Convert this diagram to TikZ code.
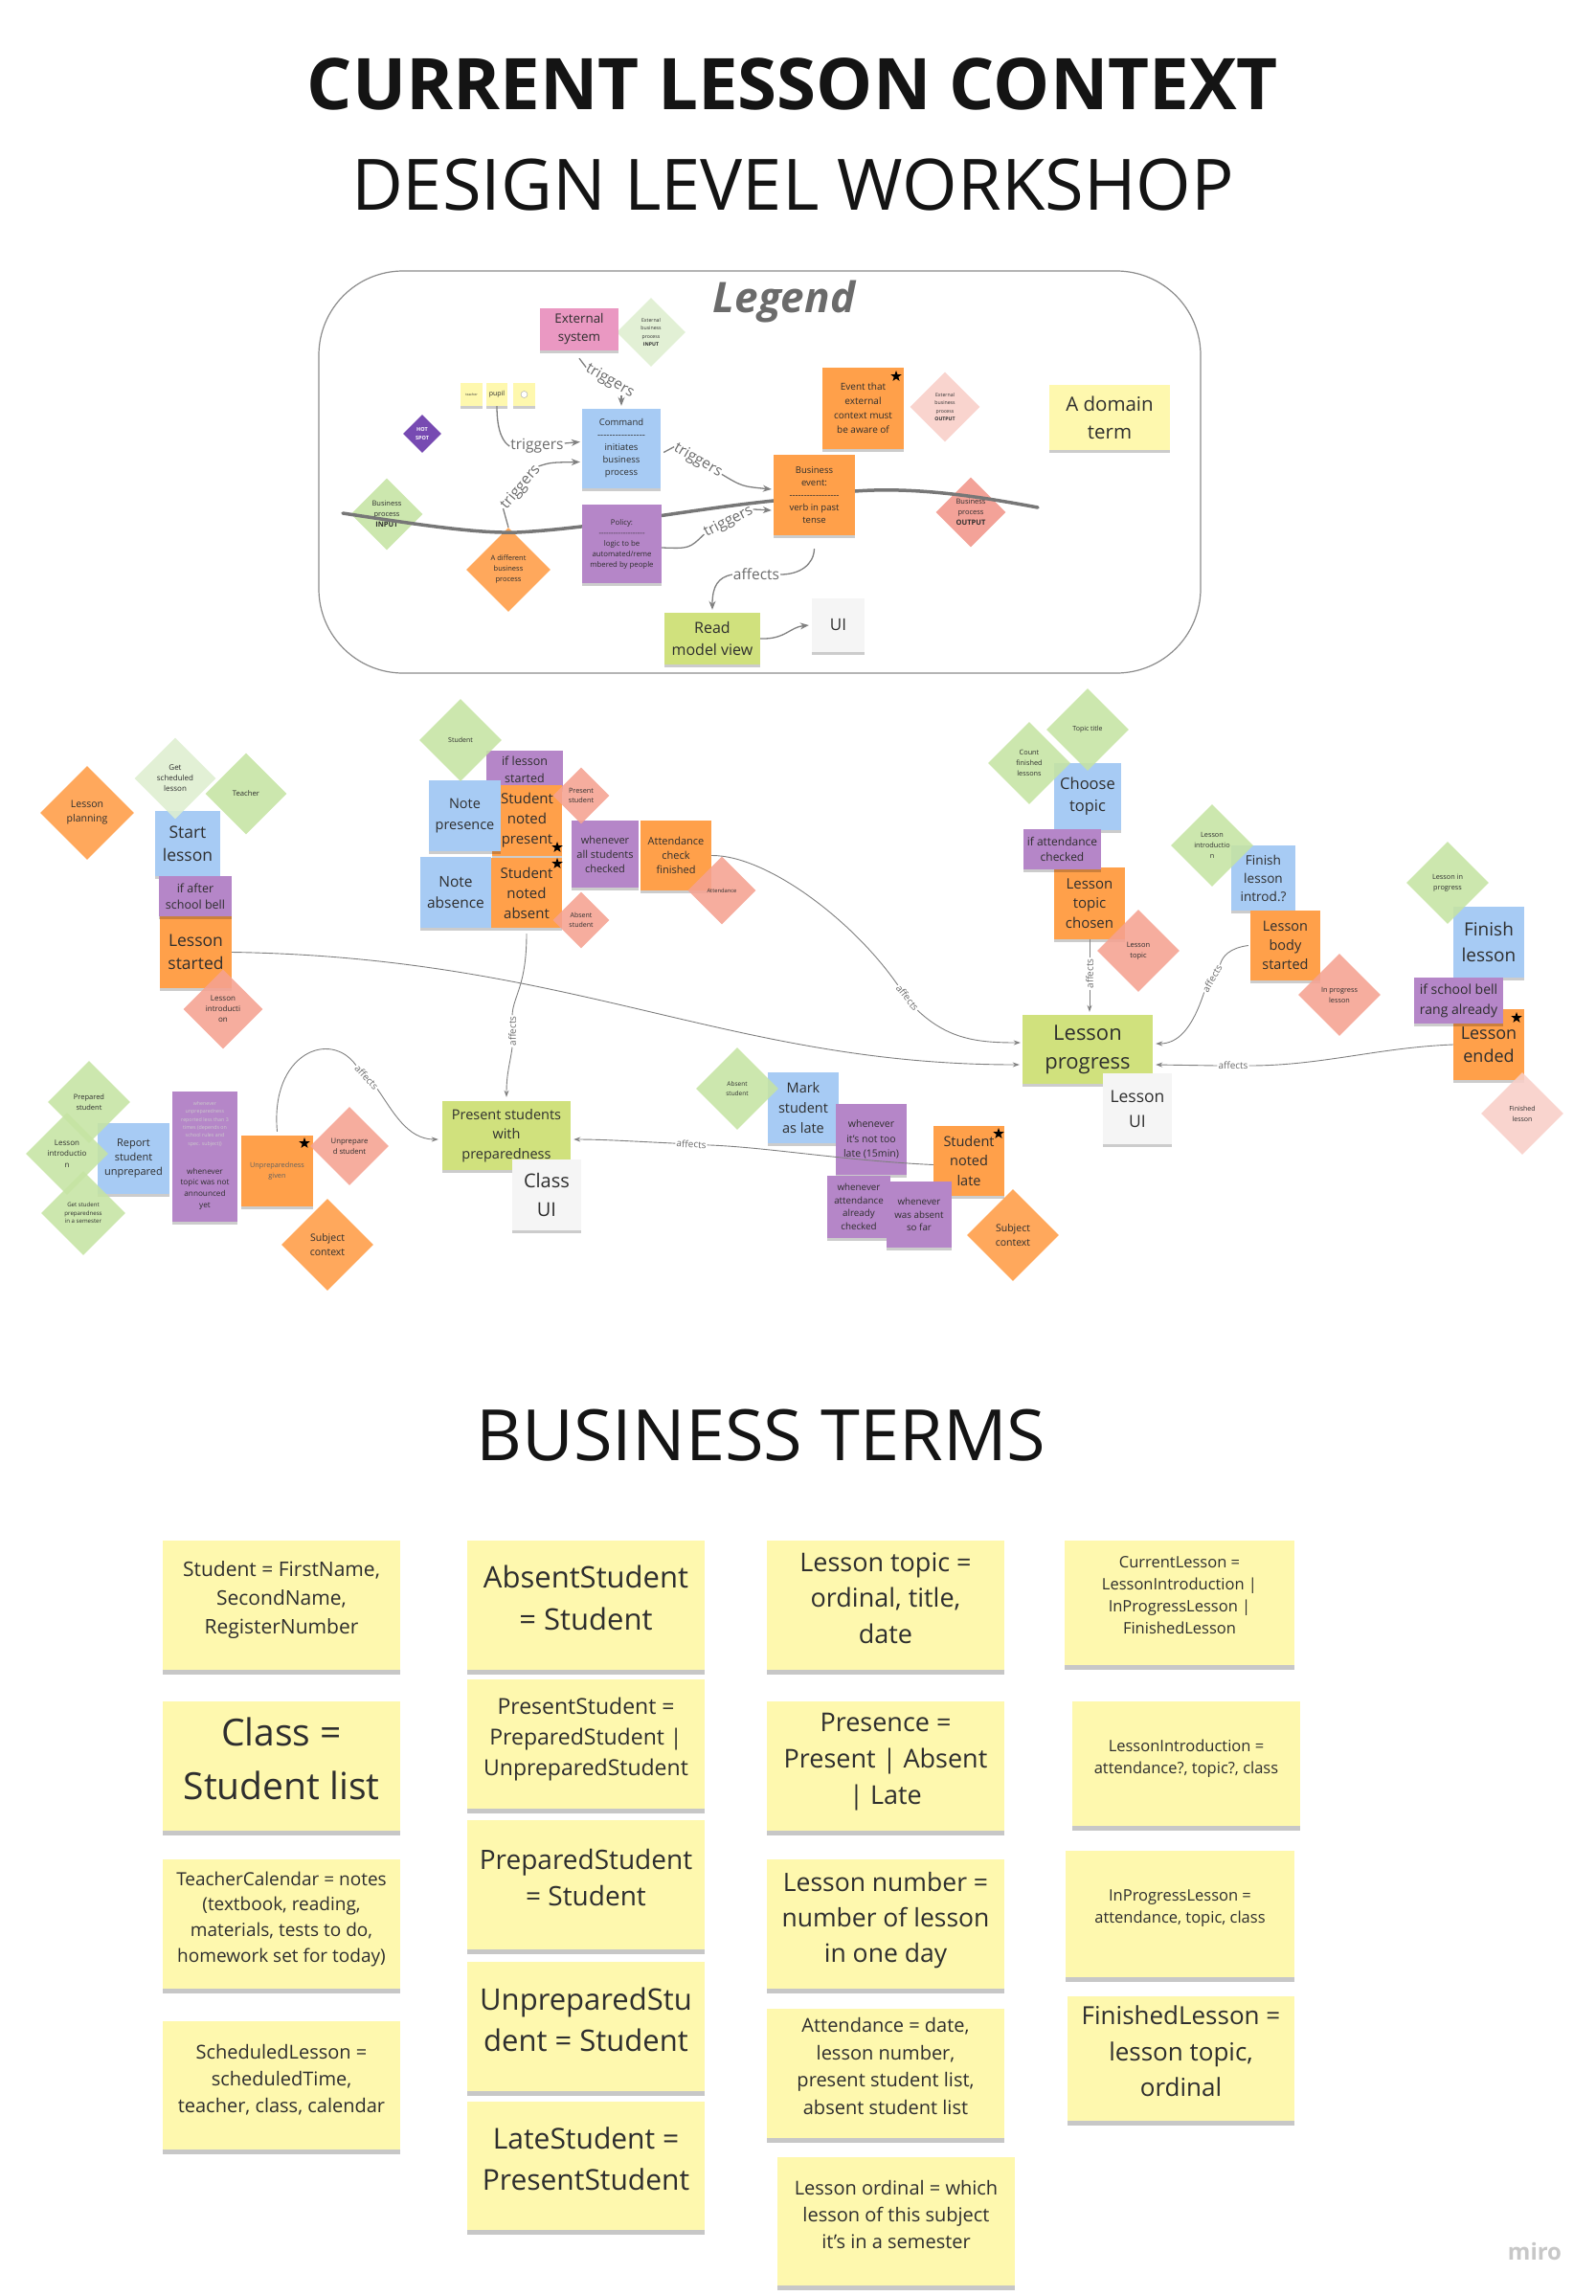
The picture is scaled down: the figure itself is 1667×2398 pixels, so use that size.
\documentclass[tikz,border=0pt]{standalone}
\usepackage{fontspec}
\setmainfont{Open Sans}
\usepackage{graphicx}
\usetikzlibrary{shapes.geometric,arrows.meta,shadows}
\definecolor{txt}{HTML}{2E2E2E}
\definecolor{cmdc}{HTML}{A7CBF4}
\definecolor{evc}{HTML}{FFA04A}
\definecolor{polc}{HTML}{B586C8}
\definecolor{rmc}{HTML}{D0E17D}
\definecolor{ylc}{HTML}{FEF8AE}
\definecolor{uic}{HTML}{F5F5F5}
\definecolor{extc}{HTML}{EA98C2}
\definecolor{gdc}{HTML}{C6E4A3}
\definecolor{pgdc}{HTML}{DEEFD0}
\definecolor{sdc}{HTML}{F5A291}
\definecolor{ppc}{HTML}{F9CFC8}
\definecolor{odc}{HTML}{FF9D46}
\definecolor{hsc}{HTML}{6531A8}
\definecolor{bpoc}{HTML}{F2968A}
\definecolor{linec}{HTML}{808080}
\definecolor{tlc}{HTML}{777777}
\newcommand\fsz[2]{\fontsize{#1pt}{#2pt}\selectfont}
\newcommand\dashline[1]{\hbox to #1{\xleaders\hbox{-}\hfill}}
\newcommand\lift{\rule[-15pt]{0pt}{0pt}}
\tikzset{
  base/.style={align=center, inner sep=1pt, text=txt},
  sticky/.style={base, rectangle, drop shadow={shadow xshift=0pt, shadow yshift=-3pt, opacity=.2, fill=black}},
  wh/.style 2 args={minimum width=#1, minimum height=#2},
  cmdn/.style={sticky, fill=cmdc},
  evn/.style={sticky, fill=evc},
  poln/.style={sticky, fill=polc},
  rmn/.style={sticky, fill=rmc},
  yln/.style={sticky, fill=ylc},
  uin/.style={sticky, fill=uic},
  extn/.style={sticky, fill=extc},
  term/.style={base, rectangle, fill=ylc, text=black!82, drop shadow={shadow xshift=0pt, shadow yshift=-5pt, opacity=.22, fill=black}},
  dia/.style={base, diamond, aspect=1, inner sep=0pt, minimum size=#1, fill opacity=.88, text opacity=1},
  gd/.style={dia=#1, fill=gdc},
  pgd/.style={dia=#1, fill=pgdc},
  sd/.style={dia=#1, fill=sdc},
  ppd/.style={dia=#1, fill=ppc},
  od/.style={dia=#1, fill=odc},
  hsd/.style={dia=#1, fill=hsc},
  bpod/.style={dia=#1, fill=bpoc},
  conn/.style={draw=linec, line width=0.9pt},
  arr/.style={conn, -{Stealth[length=7pt,width=5pt]}},
  lconn/.style={draw=linec, line width=1.3pt},
  larr/.style={lconn, -{Stealth[length=9pt,width=7pt]}},
  lbl/.style={inner sep=1pt, text=black!58, font=\fsz{15.5}{18}},
  albl/.style={inner sep=1pt, text=black!58, font=\fsz{10}{12}},
  starn/.style={star, star points=5, star point ratio=2.5, fill=black, inner sep=0pt, minimum size=12},
}
\begin{document}
\begin{tikzpicture}[x=1pt,y=-1pt]
\useasboundingbox (0,0) rectangle (1667,2398);
\fill[white] (0,0) rectangle (1667,2398);

% ---------------- titles
\node[font=\bfseries\fsz{80}{90}, text=black!92, inner sep=0] (title1) at (828,88) {\resizebox{1014pt}{!}{CURRENT LESSON CONTEXT}};
\node[font=\fsz{72}{80}, text=black!92, inner sep=0] (title2) at (828,193) {\resizebox{922pt}{!}{DESIGN LEVEL WORKSHOP}};
\node[font=\fsz{72}{80}, text=black!92, inner sep=0] (title3) at (795,1499) {\resizebox{595pt}{!}{BUSINESS TERMS}};

% ---------------- legend
\node[draw=black!45, line width=1.2pt, rounded corners=88pt, minimum width=921, minimum height=420, inner sep=0] (legendbox) at (793.5,493) {};
\node[font=\bfseries\itshape\fsz{44}{50}, text=black!58] (legendt) at (819,315) {Legend};

\node[pgd=72, font=\fsz{5.2}{8.6}] (extin) at (680,347) {External\\business\\process\\\textbf{INPUT}};
\node[ppd=73, font=\fsz{5.2}{8.6}] (extout) at (987,425) {External\\business\\process\\\textbf{OUTPUT}};
\node[bpod=73, font=\fsz{7.5}{11}] (bpout) at (1014,535) {Business\\process\\\textbf{OUTPUT}};
\node[gd=75, font=\fsz{7.5}{11}] (bpin) at (404,537) {Business\\process\\\textbf{INPUT}};
\node[hsd=40, font=\bfseries\fsz{5.5}{8.5}, text=white] (hotspot) at (441,453) {HOT\\SPOT};
\node[od=88, font=\fsz{7.5}{11}] (diffbp) at (531,595) {A different\\business\\process};

\draw[line width=3.5pt, draw=tlc, line cap=round] (358,536) .. controls (450,550) and (500,557) .. (540,556) .. controls (620,552) and (720,532) .. (808,523) -- (893,513) .. controls (960,508) and (1030,520) .. (1084,530);

\node[extn, wh={82}{44}, font=\fsz{13.4}{19}] (extsys) at (605,344) {External\\system};
\node[yln, wh={23}{24}, font=\fsz{3.5}{5}] (teacherst) at (492.5,412) {teacher};
\node[yln, wh={22}{24}, font=\fsz{7}{10}] (pupil) at (519,412) {pupil};
\node[yln, wh={23}{24}] (clock) at (547.5,412) {};
\node[circle, draw=black!35, fill=white, minimum size=7, inner sep=0] (clockface) at (clock) {};
\node[cmdn, wh={82}{83}, font=\fsz{9.5}{13}] (cmd) at (649,468.5) {Command\\\dashline{50pt}\\initiates\\business\\process};
\node[poln, wh={83}{82}, font=\fsz{7.8}{11}] (pol) at (649.5,568) {Policy:\\\dashline{48pt}\\logic to be\\automated/reme\\mbered by people};
\node[rmn, wh={100}{54}, font=\fsz{16}{23}] (rmv) at (744,667) {Read\\model view};
\node[evn, wh={85}{84}, font=\fsz{9.5}{13}] (bev) at (850.5,517) {Business\\event:\\\dashline{52pt}\\verb in past\\tense};
\node[evn, wh={85}{85}, font=\fsz{10}{15}] (evext) at (901.5,426.5) {Event that\\external\\context must\\be aware of};
\node[yln, wh={126}{68}, font=\fsz{20.5}{29}] (dterm) at (1159,436) {A domain\\term};
\node[uin, wh={55}{56}, font=\fsz{17}{20}] (ui) at (875.5,653) {UI};
\node[starn] (star1) at (936,393) {};

\node[lbl, rotate=-30] (trg1) at (637,398) {triggers};
\node[lbl] (trg2) at (561,466) {triggers};
\node[lbl, rotate=50] (trg3) at (544,509) {triggers};
\node[lbl, rotate=-30] (trg4) at (729,481) {triggers};
\node[lbl, rotate=27] (trg5) at (761,545) {triggers};
\node[lbl] (aff1) at (790,600) {affects};

\draw[lconn] ([yshift=-8pt]extsys.south) -- (trg1.west);
\draw[larr] ([yshift=14pt]cmd.north) -- ([yshift=3pt]cmd.north);
\draw[lconn] (pupil.south) .. controls (519,452) and (526,462) .. (trg2.west);
\draw[larr] ([yshift=3pt]trg2.east) -- ([xshift=-2pt,yshift=7pt]cmd.west);
\draw[lconn] (diffbp.north) -- (trg3.west);
\draw[larr] (trg3.east) .. controls (575,483) .. ([xshift=-2pt,yshift=-14pt]cmd.west);
\draw[lconn] ([xshift=3pt,yshift=-4pt]cmd.east) -- (trg4.west);
\draw[larr] (trg4.east) .. controls (775,508) .. ([xshift=-2pt,yshift=6pt]bev.west);
\draw[lconn] ([yshift=-4pt]pol.east) .. controls (720,573) .. (trg5.west);
\draw[larr] (trg5.east) -- ([xshift=-2pt,yshift=-16pt]bev.west);
\draw[lconn] ([yshift=-14pt]bev.south) .. controls (850,590) and (835,600) .. (aff1.east);
\draw[larr] (aff1.west) .. controls (750,603) and (744,612) .. ([yshift=3pt]rmv.north);
\draw[larr] (rmv.east) .. controls (820,668) and (825,655) .. ([xshift=-3pt]ui.west);

% ---------------- main: sticky notes
\node[cmdn, wh={68}{68}, font=\fsz{17.5}{24}] (sl) at (196,881) {Start\\lesson};
\node[evn, wh={75}{75}, font=\fsz{17.5}{24}] (ls) at (204.5,994.5) {Lesson\\started};
\node[poln, wh={76}{42}, font=\fsz{12.5}{17}] (iasb) at (204,936) {if after\\school bell};

\node[poln, wh={80}{40}, font=\fsz{12.5}{18}] (ils) at (548,804) {if lesson\\started};
\node[evn, wh={73}{74}, font=\fsz{15}{21}] (snp) at (550.5,857) {Student\\noted\\present};
\node[cmdn, wh={75}{74}, font=\fsz{14.5}{21.5}] (np) at (485.5,852) {Note\\presence};
\node[evn, wh={74}{73}, font=\fsz{15}{21}] (sna) at (550,932.5) {Student\\noted\\absent};
\node[cmdn, wh={74}{74}, font=\fsz{15.5}{21.5}] (na) at (476,932) {Note\\absence};
\node[poln, wh={70}{70}, font=\fsz{11}{15}] (wasc) at (632,892) {whenever\\all students\\checked};
\node[evn, wh={74}{73}, font=\fsz{11}{15}] (acf) at (706,893.5) {Attendance\\check\\finished};

\node[cmdn, wh={70}{70}, font=\fsz{16.5}{23}] (ct) at (1136,832) {Choose\\topic};
\node[evn, wh={74}{75}, font=\fsz{15}{20.5}] (ltc) at (1138,943.5) {Lesson\\topic\\chosen};
\node[poln, wh={81}{42}, font=\fsz{12}{16.5}] (iac) at (1109.5,887) {if attendance\\checked};
\node[cmdn, wh={67}{68}, font=\fsz{13.6}{19}] (fli) at (1319.5,917) {Finish\\lesson\\introd.?};
\node[evn, wh={73}{73}, font=\fsz{14.5}{20.3}] (lbs) at (1342.5,987.5) {Lesson\\body\\started};
\node[cmdn, wh={74}{74}, font=\fsz{19}{27}] (fl) at (1555,984) {Finish\\lesson};
\node[evn, wh={74}{74}, font=\fsz{18}{24.5}] (le) at (1555,1091) {Lesson\\ended};
\node[poln, wh={93}{48}, font=\fsz{14}{20.7}] (isbra) at (1523.5,1045) {if school bell\\rang already};
\node[rmn, wh={136}{72}, font=\fsz{22}{30}] (lp) at (1136,1096) {Lesson\\progress};
\node[uin, wh={72}{74}, font=\fsz{17.5}{25.7}] (lui) at (1188,1158) {Lesson\\UI};

\node[cmdn, wh={75}{74}, font=\fsz{11}{15}] (rsu) at (139.5,1210) {Report\\student\\unprepared};
\node[poln, wh={68}{68}, font=\fsz{5.3}{8.3}, text=white!80!black] (wur) at (214,1174) {whenever\\unpreparedness\\reported less than 3\\times (depends on\\school rules and\\spec. subject))};
\node[poln, wh={68}{69}, font=\fsz{8.2}{11.7}] (wtna) at (214,1241.5) {whenever\\topic was not\\announced\\yet};
\node[evn, wh={75}{74}, font=\fsz{7.3}{10.2}, text=black!62] (ug) at (289.5,1223) {Unpreparedness\\given};

\node[rmn, wh={134}{72}, font=\fsz{14.5}{20.7}] (psp) at (529,1186) {Present students\\with\\preparedness};
\node[uin, wh={72}{74}, font=\fsz{20}{30}] (cui) at (571,1248) {Class\\UI};
\node[cmdn, wh={74}{74}, font=\fsz{14.5}{20.7}] (msl) at (839,1157) {Mark\\student\\as late};
\node[poln, wh={74}{74}, font=\fsz{10.5}{15.5}] (wnl) at (910,1190) {whenever\\it's not too\\late (15min)};
\node[evn, wh={74}{73}, font=\fsz{14.5}{20.3}] (snl) at (1012,1212.5) {Student\\noted\\late};
\node[poln, wh={66}{65}, font=\fsz{9.8}{13.6}] (waac) at (897,1260.5) {whenever\\attendance\\already\\checked};
\node[poln, wh={68}{69}, font=\fsz{9.8}{13.8}] (wwas) at (960,1268.5) {whenever\\was absent\\so far};

% ---------------- main: diamonds
\node[od=98, font=\fsz{10.5}{15}] (lplan) at (91,849) {Lesson\\planning};
\node[pgd=85, font=\fsz{8}{11}] (gsl) at (183,813) {Get\\scheduled\\lesson};
\node[gd=85, font=\fsz{7.7}{10}] (teach) at (257,829) {Teacher};
\node[sd=83, font=\fsz{8}{11}] (lintro) at (233,1054) {Lesson\\introducti\\on};
\node[gd=86, font=\fsz{7}{9}] (stud) at (481,773) {Student};
\node[sd=59, font=\fsz{7.3}{10}] (pstud) at (607,831) {Present\\student};
\node[sd=59, font=\fsz{7}{10}] (astud) at (607,961) {Absent\\student};
\node[sd=71, font=\fsz{5.8}{7}] (att) at (754,930) {Attendance};
\node[gd=86, font=\fsz{7}{9}] (tt) at (1136,762) {Topic title};
\node[gd=86, font=\fsz{7.3}{11}] (cfl) at (1075,797) {Count\\finished\\lessons};
\node[sd=86, font=\fsz{7.5}{11}] (ltop) at (1189,993) {Lesson\\topic};
\node[gd=86, font=\fsz{7.3}{11}] (lintro2) at (1266,883) {Lesson\\introductio\\n};
\node[sd=86, font=\fsz{7.3}{11}] (ipl) at (1399,1039) {In progress\\lesson};
\node[gd=86, font=\fsz{7.3}{11}] (lip) at (1512,922) {Lesson in\\progress};
\node[ppd=86, font=\fsz{7}{11}] (fin) at (1590,1163) {Finished\\lesson};
\node[gd=86, font=\fsz{7.5}{10.7}] (prepst) at (93,1151) {Prepared\\student};
\node[gd=86, font=\fsz{8}{11.3}] (lintro3) at (70,1205) {Lesson\\introductio\\n};
\node[gd=88, font=\fsz{6.1}{8.6}] (gsp) at (87,1267) {Get student\\preparedness\\in a semester};
\node[sd=82, font=\fsz{7.7}{11}] (unst) at (365,1197) {Unprepare\\d student};
\node[od=96, font=\fsz{10.5}{15.3}] (subj1) at (342,1300) {Subject\\context};
\node[gd=86, font=\fsz{6.5}{10}] (absst) at (770,1137) {Absent\\student};
\node[od=96, font=\fsz{10.5}{15.3}] (subj2) at (1058,1290) {Subject\\context};

% stars
\node[starn] (star2) at (582,885) {};
\node[starn] (star3) at (582,902) {};
\node[starn] (star4) at (1584,1063) {};
\node[starn] (star5) at (1043,1184) {};
\node[starn] (star6) at (318,1194) {};

% ---------------- main connectors
\node[albl, rotate=-52] (a1) at (948,1042) {affects};
\node[albl, rotate=90] (a2) at (535,1077) {affects};
\node[albl, rotate=-48] (a3) at (383,1125) {affects};
\node[albl, rotate=-3] (a4) at (722,1195) {affects};
\node[albl, rotate=90] (a5) at (1138,1017) {affects};
\node[albl, rotate=60] (a6) at (1266,1022) {affects};
\node[albl] (a7) at (1288,1113) {affects};

\draw[conn] (acf.east) .. controls (800,893) and (890,960) .. (a1.west);
\draw[arr] (a1.east) .. controls (990,1085) and (1020,1089) .. ([xshift=-2pt,yshift=7pt]lp.west);
\draw[conn] ([yshift=-6pt]sna.south) .. controls (550,1030) and (536,1040) .. (a2.east);
\draw[arr] (a2.west) .. controls (533,1110) and (529,1120) .. ([yshift=4pt]psp.north);
\draw[conn] ([yshift=4pt]ug.north) .. controls (282,1100) and (345,1075) .. (a3.west);
\draw[arr] (a3.east) .. controls (410,1160) and (425,1190) .. ([xshift=-4pt,yshift=-4pt]psp.west);
\draw[conn] ([yshift=-4pt]snl.west) .. controls (880,1212) and (800,1198) .. (a4.east);
\draw[arr] (a4.west) .. controls (660,1192) and (630,1190) .. ([xshift=3pt,yshift=-4pt]psp.east);
\draw[conn] (ltc.south) -- (a5.east);
\draw[arr] (a5.west) -- ([xshift=2pt,yshift=3pt]lp.north);
\draw[conn] ([xshift=-2pt]lbs.west) .. controls (1285,990) and (1277,998) .. (a6.east);
\draw[arr] (a6.west) .. controls (1245,1075) and (1230,1090) .. ([xshift=3pt,yshift=6pt]lp.east);
\draw[conn] (le.west) .. controls (1440,1094) and (1380,1113) .. (a7.east);
\draw[arr] (a7.west) -- ([xshift=3pt,yshift=-16pt]lp.east);
\draw[arr] (ls.east) .. controls (600,1000) and (760,1112) .. ([xshift=-3pt,yshift=-16pt]lp.west);

% ---------------- business terms
\node[term, wh={248}{135}, font=\fsz{21}{30}] (tstudent) at (294,1676.5) {Student = FirstName,\\SecondName,\\RegisterNumber\lift};
\node[term, wh={248}{135}, font=\fsz{39}{56}] (tclass) at (294,1844.5) {Class =\\Student list\lift};
\node[term, wh={248}{135}, font=\fsz{19}{26.8}] (tcal) at (294,2009.5) {TeacherCalendar = notes\\(textbook, reading,\\materials, tests to do,\\homework set for today)\lift};
\node[term, wh={248}{134}, font=\fsz{20}{28}] (tsched) at (294,2178) {ScheduledLesson =\\scheduledTime,\\teacher, class, calendar\lift};
\node[term, wh={248}{135}, font=\fsz{31}{44}] (tabs) at (612,1676.5) {AbsentStudent\\= Student\lift};
\node[term, wh={248}{135}, font=\fsz{23}{32}] (tpres) at (612,1821.5) {PresentStudent =\\PreparedStudent |\\UnpreparedStudent\lift};
\node[term, wh={248}{135}, font=\fsz{28}{38.5}] (tprep) at (612,1968.5) {PreparedStudent\\= Student\lift};
\node[term, wh={248}{135}, font=\fsz{31}{43}] (tunprep) at (612,2116.5) {UnpreparedStu\\dent = Student\lift};
\node[term, wh={248}{134}, font=\fsz{30}{43}] (tlate) at (612,2262) {LateStudent =\\PresentStudent\lift};
\node[term, wh={248}{135}, font=\fsz{27}{37.5}] (ttopic) at (925,1676.5) {Lesson topic =\\ordinal, title,\\date\lift};
\node[term, wh={248}{135}, font=\fsz{27}{38}] (tpresence) at (925,1844.5) {Presence =\\Present | Absent\\| Late\lift};
\node[term, wh={248}{135}, font=\fsz{26.5}{37}] (tnumber) at (925,2009.5) {Lesson number =\\number of lesson\\in one day\lift};
\node[term, wh={248}{135}, font=\fsz{20}{28.5}] (tatt) at (925,2165.5) {Attendance = date,\\lesson number,\\present student list,\\absent student list\lift};
\node[term, wh={248}{134}, font=\fsz{20}{28}] (tord) at (936,2320) {Lesson ordinal = which\\lesson of this subject\\it's in a semester\lift};
\node[term, wh={240}{130}, font=\fsz{16.5}{23}] (tcurr) at (1232,1674) {CurrentLesson =\\LessonIntroduction |\\InProgressLesson |\\FinishedLesson\lift};
\node[term, wh={238}{130}, font=\fsz{16.5}{23}] (tintro) at (1239,1842) {LessonIntroduction =\\attendance?, topic?, class\lift};
\node[term, wh={239}{132}, font=\fsz{16.5}{23}] (tinprog) at (1232.5,1999) {InProgressLesson =\\attendance, topic, class\lift};
\node[term, wh={237}{130}, font=\fsz{26}{37.5}] (tfin) at (1233.5,2150) {FinishedLesson =\\lesson topic,\\ordinal\lift};

\node[font=\bfseries\fsz{24}{28}, text=black!22] (miro) at (1603,2351) {miro};
\end{tikzpicture}
\end{document}
